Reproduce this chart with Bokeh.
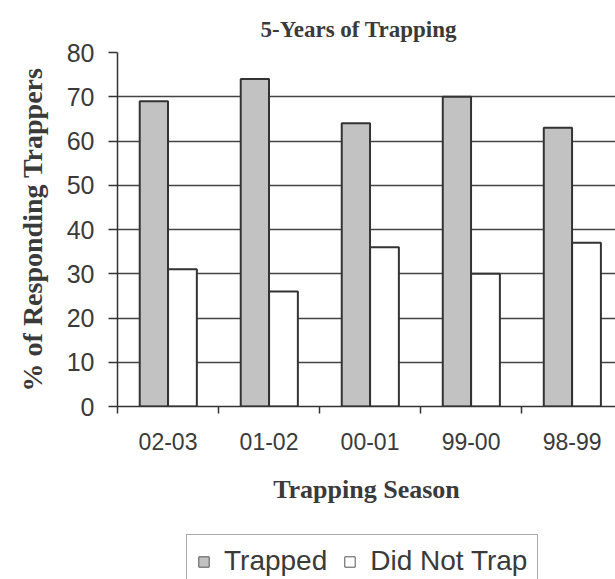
from bokeh.plotting import figure
from bokeh.models import (ColumnDataSource, Range1d, FixedTicker, Legend, LegendItem, Title)
from bokeh.layouts import column
from bokeh.embed import file_html
from bokeh.resources import INLINE

seasons = ["02-03", "01-02", "00-01", "99-00", "98-99"]
trapped = [69, 74, 64, 70, 63]
did_not_trap = [31, 26, 36, 30, 37]
y_ticks = [0, 10, 20, 30, 40, 50, 60, 70, 80]
series_names = ["Trapped", "Did Not Trap"]

idx = list(range(len(seasons)))
src_t = ColumnDataSource(dict(x=[i + 0.36 for i in idx], top=trapped))
src_d = ColumnDataSource(dict(x=[i + 0.643 for i in idx], top=did_not_trap))

TXT = "#3a3a3a"
GRAY = "#c2c2c2"
EDGE = "#333333"

p1 = figure(width=615, height=527, output_backend="svg", toolbar_location=None,
            x_range=Range1d(0, 4.93), y_range=Range1d(0, 80),
            min_border_left=117, min_border_right=0, min_border_top=52, min_border_bottom=121)
p1.background_fill_color = "white"
p1.border_fill_color = "white"
p1.outline_line_color = None

title = Title(text="5-Years of Trapping", align="left", offset=143,
              text_font="Liberation Serif", text_font_style="bold",
              text_font_size="23px", text_color=TXT, standoff=22)
p1.add_layout(title, "above")

p1.vbar(x="x", top="top", width=0.28, bottom=0, source=src_t,
        fill_color=GRAY, line_color=EDGE, line_width=2)
p1.vbar(x="x", top="top", width=0.285, bottom=0, source=src_d,
        fill_color="white", line_color=EDGE, line_width=2)

# grid
p1.xgrid.grid_line_color = None
p1.ygrid.ticker = FixedTicker(ticks=y_ticks)
p1.ygrid.grid_line_color = "#444444"
p1.ygrid.grid_line_width = 1.5

# y axis
ya = p1.yaxis[0]
ya.ticker = FixedTicker(ticks=y_ticks)
ya.axis_label = "% of Responding Trappers"
ya.axis_label_text_font = "Liberation Serif"
ya.axis_label_text_font_style = "bold"
ya.axis_label_text_font_size = "28px"
ya.axis_label_text_color = TXT
ya.axis_label_standoff = 16
ya.major_label_text_font = "Liberation Sans"
ya.major_label_text_font_size = "25px"
ya.major_label_text_color = TXT
ya.major_label_standoff = 14
ya.major_tick_out = 9
ya.major_tick_in = 0
ya.minor_tick_out = 0
ya.minor_tick_in = 0
ya.axis_line_color = EDGE
ya.axis_line_width = 1.5
ya.major_tick_line_color = EDGE
ya.major_tick_line_width = 1.5

# x axis
xa = p1.xaxis[0]
centers = [i + 0.5 for i in idx]
xa.ticker = FixedTicker(ticks=centers, minor_ticks=idx + [len(idx)])
xa.major_label_overrides = {c: s for c, s in zip(centers, seasons)}
xa.major_tick_out = 0
xa.major_tick_in = 0
xa.minor_tick_out = 7
xa.minor_tick_in = 0
xa.minor_tick_line_color = EDGE
xa.minor_tick_line_width = 1.5
xa.axis_line_color = EDGE
xa.axis_line_width = 1.5
xa.major_label_text_font = "Liberation Sans"
xa.major_label_text_font_size = "23px"
xa.major_label_text_color = TXT
xa.major_label_standoff = 19
xa.axis_label = "Trapping Season"
xa.axis_label_text_font = "Liberation Serif"
xa.axis_label_text_font_style = "bold"
xa.axis_label_text_font_size = "26px"
xa.axis_label_text_color = TXT
xa.axis_label_standoff = 22

# legend strip (separate figure below the chart; its frame aligns with the chart's)
p2 = figure(width=615, height=52, output_backend="svg", toolbar_location=None,
            x_range=Range1d(0, 1), y_range=Range1d(0, 1),
            x_axis_type=None, y_axis_type=None,
            min_border_left=0, min_border_right=0, min_border_top=0, min_border_bottom=0)
p2.grid.visible = False
p2.outline_line_color = None
p2.background_fill_color = "white"
p2.border_fill_color = "white"
# legend proxies, kept outside the strip's visible range
lt = p2.vbar(x=[5], top=[5], bottom=[4], width=0.1, fill_color=GRAY, line_color="#555555", line_width=1)
ld = p2.vbar(x=[5], top=[5], bottom=[4], width=0.1, fill_color="white", line_color="#555555", line_width=1)

legend = Legend(items=[LegendItem(label=series_names[0], renderers=[lt]),
                       LegendItem(label=series_names[1], renderers=[ld])],
                orientation="horizontal", location=(69, -9),
                label_text_font="Liberation Sans", label_text_font_size="28px",
                label_text_color=TXT, glyph_width=13, glyph_height=13,
                label_standoff=14, spacing=16, padding=10, margin=0,
                border_line_color="#555555", border_line_width=1)
p2.add_layout(legend, "center")

layout = column(p1, p2, spacing=0)
open("out.html", "w").write(file_html(layout, INLINE))
